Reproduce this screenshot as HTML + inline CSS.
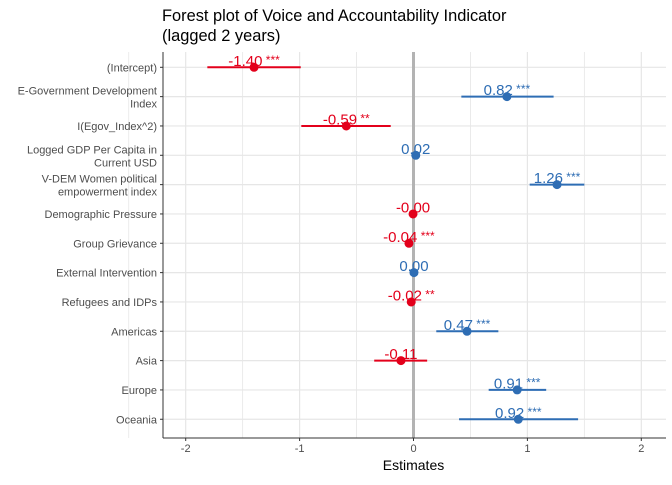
<!DOCTYPE html>
<html><head><meta charset="utf-8"><style>
body{margin:0;background:#fff;font-family:"Liberation Sans",sans-serif}
</style></head><body>
<svg id="chart" width="672" height="480" xmlns="http://www.w3.org/2000/svg" font-family="Liberation Sans, sans-serif">
<text x="162" y="21" font-size="16.4" fill="#000">Forest plot of Voice and Accountability Indicator</text>
<text x="162" y="41" font-size="16.4" fill="#000">(lagged 2 years)</text>
<g id="grid"></g><g id="marks"></g><g id="axes"></g>
<text x="413.5" y="470" font-size="14" text-anchor="middle" fill="#000">Estimates</text>
</svg>
<script>
const terms=["(Intercept)","E-Government Development|Index","I(Egov_Index^2)","Logged GDP Per Capita in|Current USD","V-DEM Women political|empowerment index","Demographic Pressure","Group Grievance","External Intervention","Refugees and IDPs","Americas","Asia","Europe","Oceania"];
const estimates=[-1.40,0.82,-0.59,0.02,1.26,-0.004,-0.04,0.004,-0.02,0.47,-0.11,0.91,0.92];
const lowCI=[-1.81,0.42,-0.985,0.005,1.02,-0.01,-0.05,-0.005,-0.03,0.20,-0.345,0.66,0.40];
const highCI=[-0.99,1.23,-0.20,0.035,1.50,0.005,-0.03,0.012,-0.01,0.745,0.12,1.165,1.445];
const labels=["-1.40","0.82","-0.59","0.02","1.26","-0.00","-0.04","0.00","-0.02","0.47","-0.11","0.91","0.92"];
const stars=["***","***","**","","***","","***","","**","***","","***","***"];
const xTicks=[-2,-1,0,1,2];
const xTickLabels=["-2","-1","0","1","2"];
const NS="http://www.w3.org/2000/svg";
const L=163,R=666,T=52,B=438;
const x=v=>413.5+v*113.9;
const y=i=>67.3+i*29.33;
function mk(tag,attrs,parent,txt){const e=document.createElementNS(NS,tag);for(const k in attrs)e.setAttribute(k,attrs[k]);if(txt!==undefined)e.textContent=txt;parent.appendChild(e);return e;}
const g=document.getElementById('grid'),m=document.getElementById('marks'),a=document.getElementById('axes');
for(let v=-2.5;v<=2.5;v+=0.5){const l=mk('line',{x1:x(v),x2:x(v),y1:T,y2:B,stroke:'#e6e6e6','stroke-width':Number.isInteger(v)?1.2:0.8},g);

}
terms.forEach((t,i)=>{const l=mk('line',{x1:L,x2:R,y1:y(i),y2:y(i),stroke:'#e6e6e6','stroke-width':1.2},g);

});
const z=mk('line',{x1:x(0),x2:x(0),y1:T,y2:B,stroke:'#b3b3b3','stroke-width':3},g);


terms.forEach((t,i)=>{
 const c=estimates[i]<0?'#e3001b':'#2e6db4';
 const gg=mk('g',{},m);
 
 
 mk('line',{x1:x(lowCI[i]),x2:x(highCI[i]),y1:y(i),y2:y(i),stroke:c,'stroke-width':2},gg);
 mk('circle',{cx:x(estimates[i]),cy:y(i),r:4.5,fill:c},gg);
 const tx=mk('text',{x:x(estimates[i]),y:y(i)-1.5,'text-anchor':'middle',fill:c,'font-size':15},gg);
 mk('tspan',{},tx,labels[i]);
 if(stars[i]){mk('tspan',{'font-size':12,dy:-2},tx,' '+stars[i]);}
 const parts=t.split('|');
 const lt=mk('text',{x:157,'text-anchor':'end','font-size':11,fill:'#4d4d4d'},a);
 
 
 if(parts.length==1){lt.setAttribute('y',y(i)+4);lt.textContent=t;}
 else{mk('tspan',{x:157,y:y(i)-2},lt,parts[0]);mk('tspan',{x:157,y:y(i)+11},lt,parts[1]);}
 mk('line',{x1:L-3,x2:L,y1:y(i),y2:y(i),stroke:'#333','stroke-width':1},a);
});
mk('line',{x1:L,x2:L,y1:T,y2:B,stroke:'#333','stroke-width':1},a);
mk('line',{x1:L,x2:R,y1:B,y2:B,stroke:'#333','stroke-width':1},a);
xTicks.forEach((v,i)=>{mk('line',{x1:x(v),x2:x(v),y1:B,y2:B+3,stroke:'#333'},a);
 const tl=mk('text',{x:x(v),y:B+14,'text-anchor':'middle','font-size':11,fill:'#4d4d4d'},a,xTickLabels[i]);
 
 });
</script>
</body></html>
